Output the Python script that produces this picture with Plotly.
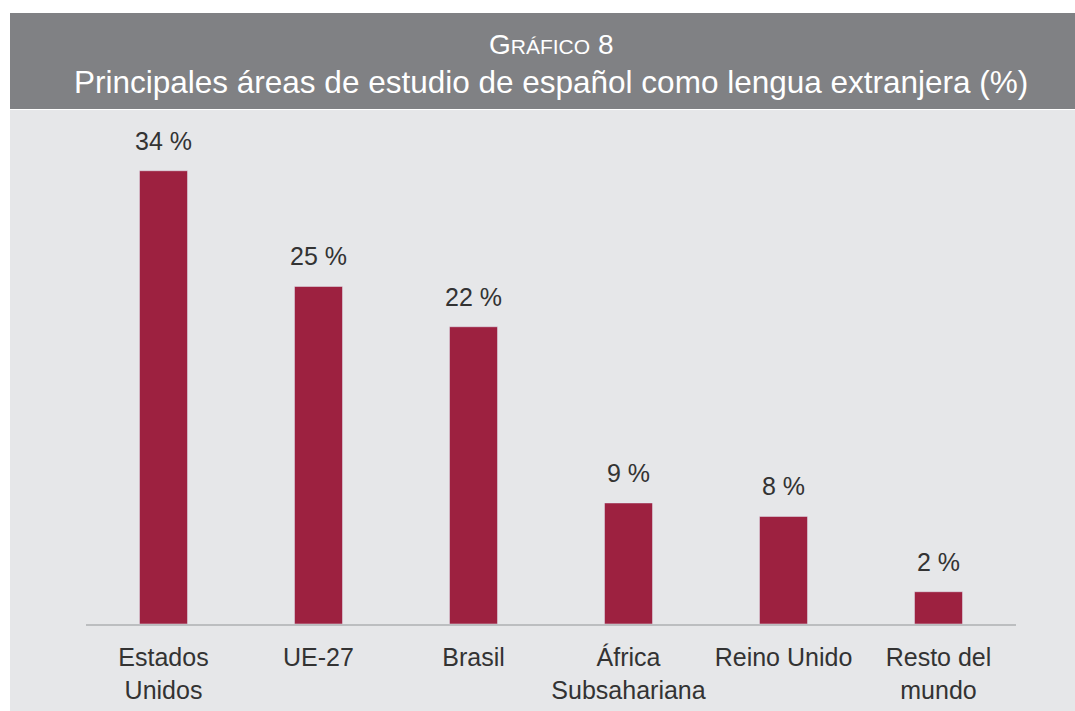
import plotly.graph_objects as go

categories = ["Estados Unidos", "UE-27", "Brasil", "África Subsahariana", "Reino Unido", "Resto del mundo"]
tick_labels = ["Estados<br>Unidos", "UE-27", "Brasil", "África<br>Subsahariana", "Reino Unido", "Resto del<br>mundo"]
values = [33.7, 25.1, 22.1, 9.0, 8.0, 2.4]
value_labels = ["34 %", "25 %", "22 %", "9 %", "8 %", "2 %"]

title_line1 = "G<span style='font-size:21px'>RÁFICO</span> 8"
title_line2 = "Principales áreas de estudio de español como lengua extranjera (%)"

BAR = "#9d2140"
HEADER = "#808184"
BODY = "#e6e7e9"
TEXT = "#333333"
FONT = "Liberation Sans"

W, H = 1075, 711
ml, mr, mt, mb = 86, 1075 - 1016, 110, 711 - 624
pw, ph = W - ml - mr, H - mt - mb

def px_x(p):
    return (p - ml) / pw

def px_y(p):
    return (mt + ph - p) / ph

fig = go.Figure(go.Bar(
    x=categories, y=values, marker_color=BAR, width=0.31,
    hoverinfo="skip",
))

annotations = []
for c, v, t in zip(categories, values, value_labels):
    annotations.append(dict(x=c, y=v, text=t, showarrow=False, yanchor="bottom",
                            yshift=14, font=dict(family=FONT, size=25, color=TEXT)))
annotations.append(dict(xref="paper", yref="paper", x=px_x(551), y=px_y(44), text=title_line1,
                        showarrow=False, font=dict(family=FONT, size=28, color="white"),
                        xanchor="center", yanchor="middle"))
annotations.append(dict(xref="paper", yref="paper", x=px_x(551), y=px_y(82), text=title_line2,
                        showarrow=False, font=dict(family=FONT, size=31.5, color="white"),
                        xanchor="center", yanchor="middle"))

shapes = [
    dict(type="rect", xref="paper", yref="paper", x0=px_x(10), x1=px_x(1085), y0=px_y(109), y1=px_y(13),
         fillcolor=HEADER, line_width=0, layer="below"),
    dict(type="rect", xref="paper", yref="paper", x0=px_x(10), x1=px_x(1085), y0=px_y(720), y1=px_y(110),
         fillcolor=BODY, line_width=0, layer="below"),
]

fig.update_layout(
    width=W, height=H,
    margin=dict(l=ml, r=mr, t=mt, b=mb, autoexpand=False),
    paper_bgcolor="white", plot_bgcolor="rgba(0,0,0,0)",
    showlegend=False,
    annotations=annotations, shapes=shapes,
    xaxis=dict(range=[-0.5, 5.5], tickmode="array", tickvals=categories, ticktext=tick_labels,
               showline=True, linecolor="#bcbec0", linewidth=2, showgrid=False, zeroline=False,
               ticks="", ticklabelstandoff=10, automargin=False,
               tickfont=dict(family=FONT, size=25, color=TEXT), fixedrange=True),
    yaxis=dict(range=[0, ph / 13.45], visible=False, showgrid=False, zeroline=False,
               automargin=False, fixedrange=True),
)

fig.write_html("out.html", config={"displayModeBar": False},
               post_script="document.body.style.margin='0';document.body.style.overflow='hidden';")
